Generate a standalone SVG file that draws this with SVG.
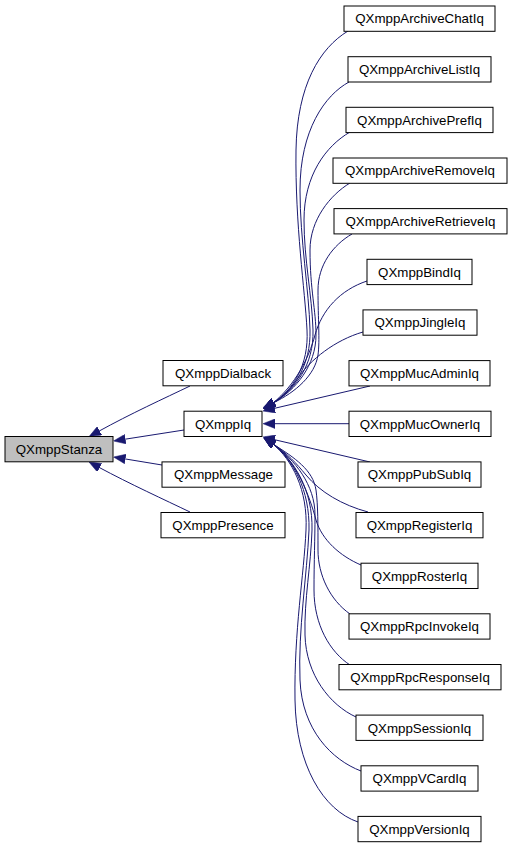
<svg xmlns="http://www.w3.org/2000/svg" width="512" height="848" viewBox="0 0 512 848">
<defs>
<style>
.n rect{fill:#ffffff;stroke:#000000;stroke-width:1}
.n.root rect{fill:#bfbfbf}
.n text{font-family:"Liberation Sans",Arial,sans-serif;font-size:13.3px;text-anchor:middle;fill:#000000}
.e path{fill:none;stroke:#191970;stroke-width:1;marker-end:url(#ah)}
</style>
<marker id="ah" markerUnits="userSpaceOnUse" viewBox="0 0 12 9.6" markerWidth="12" markerHeight="9.6" refX="1" refY="4.8" orient="auto">
<path d="M0,0 L12,4.8 L0,9.6 z" fill="#191970" stroke="#191970" stroke-width="0.5"/>
</marker>
</defs>
<rect x="0" y="0" width="512" height="848" fill="#ffffff"/>

<g id="edges" class="e">
<path d="M190,386 C165,398 130,414 98.7,431.3"/>
<path d="M184,430 L124.4,439.3"/>
<path d="M162,465 L124.4,458.8"/>
<path d="M190,512 C165,500 130,484 98.7,467.2"/>

<path d="M348,31 C320,48 297,85 296,150 C295,225 305,290 307,330 C309,365 293,390 273,403"/>
<path d="M349,82 C325,95 300,130 300,190 C300,240 309,290 310,330 C311,365 294,390 273,403"/>
<path d="M350,132 C326,146 304,175 304,220 C304,260 312,295 313,330 C314,365 295,390 273,403"/>
<path d="M350,183 C330,195 310,220 310,250 C310,290 316,310 316,335 C316,365 296,390 273,403"/>
<path d="M352,234 C333,245 318,265 318,290 C318,320 320,340 318,355 C315,375 296,392 273,403"/>
<path d="M367,281 C340,290 322,310 315,335 C309,358 295,385 273,403"/>
<path d="M363,332 C335,340 310,360 298,378 C290,390 284,396 273,403"/>
<path d="M370,386 L273.7,408.5"/>
<path d="M349,423.7 L274,423.7"/>
<path d="M370,462 L273.7,439.5"/>
<path d="M368,512 C342,505 320,492 306,475 C296,463 288,454 273,444"/>
<path d="M361,565 C340,556 322,540 316,520 C310,497 296,460 273,444"/>
<path d="M350,614 C330,600 318,575 318,550 C318,525 318,505 316,490 C313,470 295,458 273,444"/>
<path d="M350,665 C330,652 314,625 314,590 C314,560 315,540 315,515 C315,485 295,460 273,444"/>
<path d="M356,717 C330,705 306,675 305,635 C304,600 311,565 312,530 C313,490 294,460 273,444"/>
<path d="M361,771 C332,760 302,730 300,680 C298,630 307,575 309,530 C310,490 293,460 273,444"/>
<path d="M358,822 C323,810 296,765 295,700 C294,630 304,575 306,530 C308,490 292,460 273,444"/>
</g>

<g id="QXmppStanza" class="n root"><rect x="5" y="436.5" width="108" height="25.3"/><text x="59" y="453.9">QXmppStanza</text></g>
<g id="QXmppDialback" class="n"><rect x="163" y="360.5" width="120" height="25.3"/><text x="223" y="377.9">QXmppDialback</text></g>
<g id="QXmppIq" class="n"><rect x="184" y="411.2" width="78" height="25.3"/><text x="223" y="428.6">QXmppIq</text></g>
<g id="QXmppMessage" class="n"><rect x="162" y="461.9" width="123" height="25.3"/><text x="223.5" y="479.3">QXmppMessage</text></g>
<g id="QXmppPresence" class="n"><rect x="161" y="512.5" width="124" height="25.3"/><text x="223" y="529.9">QXmppPresence</text></g>

<g id="QXmppArchiveChatIq" class="n"><rect x="344" y="6" width="151" height="25.3"/><text x="419.5" y="23.4">QXmppArchiveChatIq</text></g>
<g id="QXmppArchiveListIq" class="n"><rect x="348" y="56.7" width="143" height="25.3"/><text x="419.5" y="74.1">QXmppArchiveListIq</text></g>
<g id="QXmppArchivePrefIq" class="n"><rect x="346" y="107.3" width="147" height="25.3"/><text x="419.5" y="124.7">QXmppArchivePrefIq</text></g>
<g id="QXmppArchiveRemoveIq" class="n"><rect x="333" y="158" width="174" height="25.3"/><text x="420" y="175.4">QXmppArchiveRemoveIq</text></g>
<g id="QXmppArchiveRetrieveIq" class="n"><rect x="334" y="208.6" width="173" height="25.3"/><text x="420.5" y="226">QXmppArchiveRetrieveIq</text></g>
<g id="QXmppBindIq" class="n"><rect x="367" y="259.3" width="105" height="25.3"/><text x="419.5" y="276.7">QXmppBindIq</text></g>
<g id="QXmppJingleIq" class="n"><rect x="363" y="309.9" width="114" height="25.3"/><text x="420" y="327.3">QXmppJingleIq</text></g>
<g id="QXmppMucAdminIq" class="n"><rect x="349" y="360.6" width="141" height="25.3"/><text x="419.5" y="378">QXmppMucAdminIq</text></g>
<g id="QXmppMucOwnerIq" class="n"><rect x="349" y="411.2" width="142" height="25.3"/><text x="420" y="428.6">QXmppMucOwnerIq</text></g>
<g id="QXmppPubSubIq" class="n"><rect x="358" y="461.9" width="123" height="25.3"/><text x="419.5" y="479.3">QXmppPubSubIq</text></g>
<g id="QXmppRegisterIq" class="n"><rect x="356" y="512.5" width="127" height="25.3"/><text x="419.5" y="529.9">QXmppRegisterIq</text></g>
<g id="QXmppRosterIq" class="n"><rect x="361" y="563.2" width="117" height="25.3"/><text x="419.5" y="580.6">QXmppRosterIq</text></g>
<g id="QXmppRpcInvokeIq" class="n"><rect x="349" y="613.8" width="141" height="25.3"/><text x="419.5" y="631.2">QXmppRpcInvokeIq</text></g>
<g id="QXmppRpcResponseIq" class="n"><rect x="339" y="664.5" width="162" height="25.3"/><text x="420" y="681.9">QXmppRpcResponseIq</text></g>
<g id="QXmppSessionIq" class="n"><rect x="356" y="715.1" width="127" height="25.3"/><text x="419.5" y="732.5">QXmppSessionIq</text></g>
<g id="QXmppVCardIq" class="n"><rect x="361" y="765.8" width="117" height="25.3"/><text x="419.5" y="783.2">QXmppVCardIq</text></g>
<g id="QXmppVersionIq" class="n"><rect x="358" y="816.4" width="123" height="25.3"/><text x="419.5" y="833.8">QXmppVersionIq</text></g>
</svg>
